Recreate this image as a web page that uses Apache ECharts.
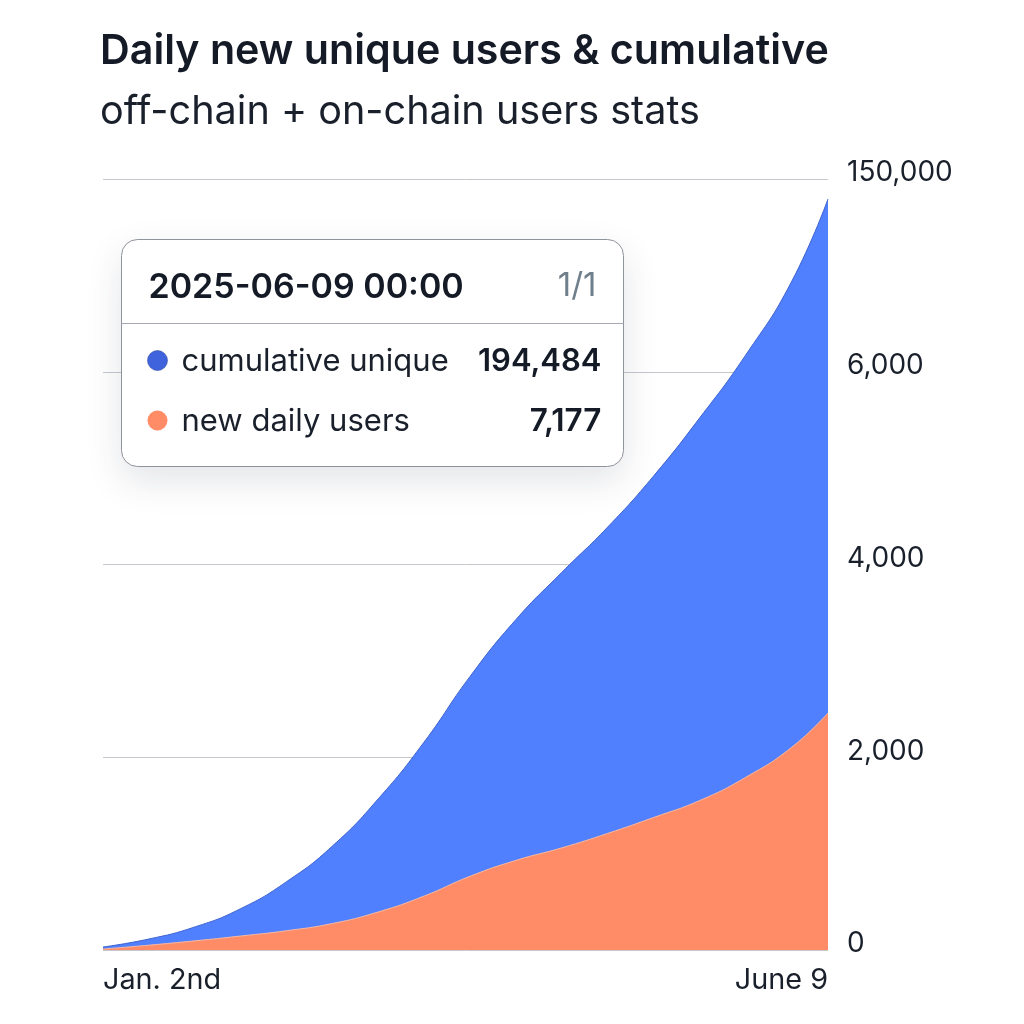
<!DOCTYPE html>
<html>
<head>
<meta charset="utf-8">
<style>html,body{margin:0;padding:0;background:#fff}#c{width:1024px;height:1024px}</style>
<script src="https://cdn.jsdelivr.net/npm/echarts@6/dist/echarts.min.js"></script>
</head>
<body>
<div id="c"></div>
<script>
const daysSinceJan2 = [0,10,20,30,40,50,60,70,80,90,100,110,120,130,140,150,158];
const cumulativeUnique = [31,114,239,429,709,1079,1569,2159,2839,3429,3919,4389,4919,5519,6169,6929,7792];
const newDailyUsers = [10,50,95,145,200,275,395,560,765,930,1060,1210,1375,1550,1790,2100,2459];
const yTickLabels = ['0','2,000','4,000','6,000','150,000'];
const xTickLabels = ['Jan. 2nd','June 9'];
const tipTitle = '2025-06-09 00:00';
const tipPage = '1/1';
const tipNames = ['cumulative unique','new daily users'];
const tipValues = ['194,484','7,177'];

const FONT = 'Inter, "Noto Sans", sans-serif';
const INK = '#141a26';
const TEXT = '#1a202b';
const BLUE = '#5080fd';
const ORANGE = '#ff8c66';
const toPairs = a => a.map((v, i) => [daysSinceJan2[i], v]);
const lastDay = daysSinceJan2[daysSinceJan2.length - 1];
const Z = 100;
const chart = echarts.init(document.getElementById('c'));
chart.setOption({
  animation: false,
  backgroundColor: '#fff',
  title: {
    text: 'Daily new unique users & cumulative',
    subtext: 'off-chain + on-chain users stats',
    left: 95, top: 26, itemGap: 20,
    textStyle: {fontFamily: FONT, fontSize: 41.2, fontWeight: 600, color: INK},
    subtextStyle: {fontFamily: FONT, fontSize: 39.6, fontWeight: 400, color: TEXT}
  },
  grid: {left: 103, right: 196, top: 179, bottom: 74},
  xAxis: {
    type: 'value',
    min: 0, max: lastDay, interval: lastDay,
    axisLine: {show: false}, axisTick: {show: false}, splitLine: {show: false},
    axisLabel: {
      formatter: v => (v === 0 ? xTickLabels[0] : xTickLabels[1]),
      alignMinLabel: 'left', alignMaxLabel: 'right', hideOverlap: false,
      fontFamily: FONT, fontSize: 28.8, color: TEXT, margin: 16
    }
  },
  yAxis: {
    type: 'value', position: 'right', min: 0, max: 8000, interval: 2000,
    axisLine: {show: false}, axisTick: {show: false},
    splitLine: {lineStyle: {color: '#c5c7cd', width: 1}},
    axisLabel: {
      formatter: v => yTickLabels[v / 2000],
      fontFamily: FONT, fontSize: 28, color: TEXT, margin: 19,
      verticalAlign: 'bottom', lineHeight: 12
    }
  },
  series: [
    {name: tipNames[0], type: 'line', data: toPairs(cumulativeUnique), smooth: 0.5, showSymbol: false, z: 2,
     lineStyle: {color: '#3f63cf', width: 1}, areaStyle: {color: BLUE, opacity: 1}},
    {name: tipNames[1], type: 'line', data: toPairs(newDailyUsers), smooth: 0.5, showSymbol: false, z: 3,
     lineStyle: {color: '#f7b9a3', width: 1}, areaStyle: {color: ORANGE, opacity: 1}}
  ],
  graphic: [{
    type: 'group', left: 119, top: 239, z: Z,
    children: [
      {type: 'rect', z: Z, shape: {x: 0, y: 0, width: 502, height: 227, r: 16},
       style: {fill: '#fff', stroke: '#8f939c', lineWidth: 1, shadowBlur: 36, shadowColor: 'rgba(40,50,70,0.13)', shadowOffsetY: 14}},
      {type: 'line', z: Z + 1, shape: {x1: 0, y1: 84, x2: 502, y2: 84}, style: {stroke: '#a6a9b1', lineWidth: 1}},
      {type: 'text', z: Z + 1, x: 27, y: 48, style: {text: tipTitle, font: '600 34px ' + FONT, fill: INK, verticalAlign: 'middle'}},
      {type: 'text', z: Z + 1, x: 475, y: 47, style: {text: tipPage, font: '400 33px ' + FONT, fill: '#6f7f8c', align: 'right', verticalAlign: 'middle'}},
      {type: 'circle', z: Z + 1, shape: {cx: 36, cy: 121, r: 10}, style: {fill: '#3f63dd', stroke: '#35509f', lineWidth: 0.6}},
      {type: 'text', z: Z + 1, x: 60, y: 122, style: {text: tipNames[0], font: '400 31px ' + FONT, fill: TEXT, verticalAlign: 'middle'}},
      {type: 'text', z: Z + 1, x: 480, y: 122, style: {text: tipValues[0], font: '600 31px ' + FONT, fill: INK, align: 'right', verticalAlign: 'middle'}},
      {type: 'circle', z: Z + 1, shape: {cx: 36, cy: 181, r: 10}, style: {fill: ORANGE}},
      {type: 'text', z: Z + 1, x: 60, y: 182, style: {text: tipNames[1], font: '400 31px ' + FONT, fill: TEXT, verticalAlign: 'middle'}},
      {type: 'text', z: Z + 1, x: 480, y: 182, style: {text: tipValues[1], font: '600 31.5px ' + FONT, fill: INK, align: 'right', verticalAlign: 'middle'}}
    ]
  }]
});
</script>
</body>
</html>
